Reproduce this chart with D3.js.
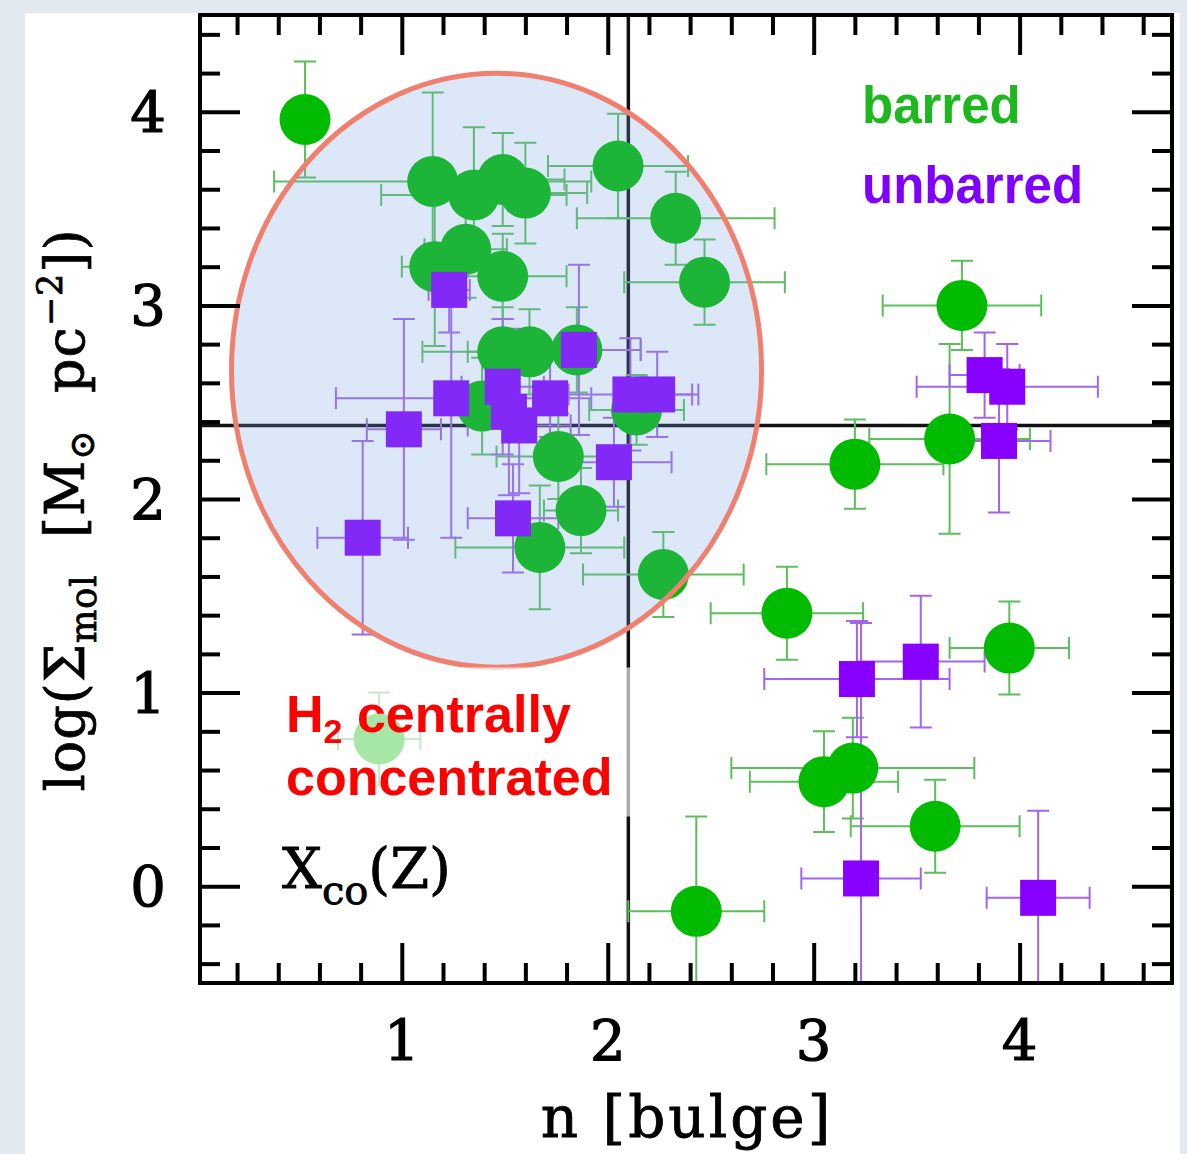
<!DOCTYPE html>
<html>
<head>
<meta charset="utf-8">
<script src="https://cdn.jsdelivr.net/npm/d3@7"></script>
<style>
  html, body { margin: 0; padding: 0; background: #e3e9f1; }
  svg { display: block; }
</style>
</head>
<body>
<svg id="chart"></svg>
<script>
// barred galaxies (green circles)
const barredN     = [0.53, 1.15, 1.35, 1.49, 1.60, 2.05, 2.33, 2.47, 1.16, 1.31, 1.49, 1.49, 1.62, 1.85, 1.39, 2.14, 1.76, 1.87, 1.67, 2.27, 0.89, 3.72, 3.20, 3.66, 2.87, 3.95, 3.05, 3.19, 3.59, 2.43];
const barredLogS  = [3.96, 3.64, 3.57, 3.65, 3.58, 3.72, 3.45, 3.12, 3.20, 3.29, 3.15, 2.76, 2.76, 2.77, 2.48, 2.46, 2.22, 1.94, 1.75, 1.61, 0.76, 3.00, 2.18, 2.31, 1.41, 1.23, 0.54, 0.61, 0.31, -0.13];
const barredNErr  = [0.02, 0.77, 0.45, 0.30, 0.30, 0.34, 0.48, 0.39, 0.16, 0.20, 0.31, 0.39, 0.30, 0.31, 0.15, 0.23, 0.30, 0.18, 0.41, 0.39, 0.20, 0.385, 0.43, 0.39, 0.37, 0.29, 0.36, 0.59, 0.41, 0.33];
const barredSErr  = [0.30, 0.46, 0.35, 0.24, 0.26, 0.27, 0.24, 0.22, 0.41, 0.25, 0.22, 0.23, 0.22, 0.22, 0.25, 0.18, 0.22, 0.22, 0.32, 0.22, 0.24, 0.23, 0.23, 0.49, 0.24, 0.24, 0.26, 0.26, 0.24, 0.49];

// unbarred galaxies (purple squares)
const unbarredN    = [1.23, 1.86, 1.24, 1.49, 1.52, 1.57, 1.72, 1.01, 0.81, 1.54, 2.03, 2.11, 2.24, 3.83, 3.94, 3.90, 3.21, 3.52, 3.23, 4.09];
const unbarredLogS = [3.08, 2.77, 2.52, 2.58, 2.45, 2.38, 2.52, 2.36, 1.80, 1.90, 2.19, 2.54, 2.54, 2.64, 2.58, 2.30, 1.07, 1.16, 0.04, -0.06];
const unbarredNErr = [0.10, 0.30, 0.56, 0.20, 0.20, 0.25, 0.20, 0.18, 0.22, 0.22, 0.28, 0.30, 0.20, 0.17, 0.44, 0.25, 0.45, 0.31, 0.29, 0.25];
const unbarredSErr = [0.22, 0.44, 0.72, 0.35, 0.43, 0.35, 0.20, 0.57, 0.50, 0.28, 0.23, 0.29, 0.22, 0.22, 0.22, 0.37, 0.30, 0.34, 1.32, 0.45];

// axes
const xTickLabels = [1, 2, 3, 4];
const yTickLabels = [0, 1, 2, 3, 4];
const nThreshold = 2.10;      // vertical divider
const sThreshold = 2.38;      // horizontal divider

// highlighted region (ellipse) and annotation box, data units
const regionCenter = [1.46, 2.665];
const regionRadii = [1.287, 1.534];
const noteBox = [0.40, 1.13, 2.115, 0.36];

const W = 1187, H = 1154;
const svg = d3.select('#chart').attr('width', W).attr('height', H);

// white page panel
svg.append('rect').attr('x', 25).attr('y', 13).attr('width', 1155).attr('height', H - 13).attr('fill', '#fff');

const x = d3.scaleLinear().domain([0.02, 4.74]).range([200, 1172]);
const y = d3.scaleLinear().domain([-0.5, 4.5]).range([983, 15]);

svg.append('clipPath').attr('id', 'plotclip')
  .append('rect').attr('x', 200).attr('y', 15).attr('width', 972).attr('height', 968);

const plot = svg.append('g').attr('clip-path', 'url(#plotclip)');

// divider lines
plot.append('line')
  .attr('x1', x(nThreshold)).attr('x2', x(nThreshold))
  .attr('y1', y(4.5)).attr('y2', y(-0.5))
  .attr('stroke', '#111').attr('stroke-width', 3.5);
plot.append('line')
  .attr('x1', x(0.02)).attr('x2', x(4.74))
  .attr('y1', y(sThreshold)).attr('y2', y(sThreshold))
  .attr('stroke', '#111').attr('stroke-width', 3.5);

const barred = barredN.map((n, i) => ({n, s: barredLogS[i], en: barredNErr[i], es: barredSErr[i]}));
const unbarred = unbarredN.map((n, i) => ({n, s: unbarredLogS[i], en: unbarredNErr[i], es: unbarredSErr[i]}));

const cap = 11;
function errorBars(data, color) {
  const g = plot.append('g').attr('stroke', color).attr('stroke-width', 2).attr('fill', 'none');
  data.forEach((d) => {
    const cx = x(d.n), cy = y(d.s);
    const x0 = x(d.n - d.en), x1 = x(d.n + d.en);
    const y0 = y(d.s - d.es), y1 = y(d.s + d.es);
    g.append('path').attr('d',
      'M' + x0 + ',' + cy + 'H' + x1 +
      'M' + x0 + ',' + (cy - cap) + 'V' + (cy + cap) +
      'M' + x1 + ',' + (cy - cap) + 'V' + (cy + cap) +
      'M' + cx + ',' + y0 + 'V' + y1 +
      'M' + (cx - cap) + ',' + y0 + 'H' + (cx + cap) +
      'M' + (cx - cap) + ',' + y1 + 'H' + (cx + cap));
  });
}
errorBars(barred, '#5cbf5c');
errorBars(unbarred, '#a464ec');

plot.append('g').selectAll('circle')
  .data(barred)
  .enter().append('circle')
  .attr('cx', (d) => x(d.n))
  .attr('cy', (d) => y(d.s))
  .attr('r', 25.5)
  .attr('fill', '#00bb00');

const half = 18;
plot.append('g').selectAll('rect')
  .data(unbarred)
  .enter().append('rect')
  .attr('x', (d) => x(d.n) - half)
  .attr('y', (d) => y(d.s) - half)
  .attr('width', half * 2)
  .attr('height', half * 2)
  .attr('fill', '#8800ff');

// shaded ellipse on top of the points
const ecx = x(regionCenter[0]), ecy = y(regionCenter[1]);
const erx = x(regionCenter[0] + regionRadii[0]) - ecx;
const ery = ecy - y(regionCenter[1] + regionRadii[1]);
plot.append('ellipse')
  .attr('cx', ecx).attr('cy', ecy).attr('rx', erx).attr('ry', ery)
  .attr('fill', 'rgb(117,162,223)').attr('fill-opacity', 0.25)
  .attr('stroke', '#f07f6f').attr('stroke-width', 5);

// semi-transparent box behind the red note
svg.append('rect')
  .attr('x', x(noteBox[0])).attr('y', y(noteBox[1]))
  .attr('width', x(noteBox[2]) - x(noteBox[0]))
  .attr('height', y(noteBox[3]) - y(noteBox[1]))
  .attr('fill', '#fff').attr('fill-opacity', 0.65);

// frame and ticks
const minorX = d3.range(0.2, 4.7, 0.2).filter((v) => Math.abs(v - Math.round(v)) > 0.01);
const minorY = d3.range(-0.4, 4.5, 0.2).filter((v) => Math.abs(v - Math.round(v)) > 0.01);

function tickAxis(axisFn, scale, values, size, transform) {
  const g = svg.append('g')
    .attr('transform', transform)
    .call(axisFn(scale).tickValues(values).tickSize(size).tickFormat(''));
  g.select('.domain').remove();
  g.selectAll('line').attr('stroke', '#000').attr('stroke-width', 4);
}
tickAxis(d3.axisBottom, x, minorX, -20, 'translate(0,983)');
tickAxis(d3.axisBottom, x, xTickLabels, -40, 'translate(0,983)');
tickAxis(d3.axisTop, x, minorX, -20, 'translate(0,15)');
tickAxis(d3.axisTop, x, xTickLabels, -40, 'translate(0,15)');
tickAxis(d3.axisLeft, y, minorY, -20, 'translate(200,0)');
tickAxis(d3.axisLeft, y, yTickLabels, -40, 'translate(200,0)');
tickAxis(d3.axisRight, y, minorY, -20, 'translate(1172,0)');
tickAxis(d3.axisRight, y, yTickLabels, -40, 'translate(1172,0)');

svg.append('rect')
  .attr('x', 200).attr('y', 15).attr('width', 972).attr('height', 968)
  .attr('fill', 'none').attr('stroke', '#000').attr('stroke-width', 4);

const serif = "'DejaVu Serif', serif";
const sans = "'Liberation Sans', Arial, sans-serif";

// serif text is a bit heavier in the original
function heavy(sel, w) {
  return sel.attr('stroke', '#000').attr('stroke-width', w).attr('paint-order', 'stroke');
}

heavy(svg.append('g').selectAll('text')
  .data(xTickLabels)
  .enter().append('text')
  .attr('x', (d) => x(d))
  .attr('y', 1060)
  .attr('text-anchor', 'middle')
  .attr('font-family', serif).attr('font-size', 56)
  .text((d) => d), 1.2);

heavy(svg.append('g').selectAll('text')
  .data(yTickLabels)
  .enter().append('text')
  .attr('x', 166)
  .attr('y', (d) => y(d) + 20)
  .attr('text-anchor', 'end')
  .attr('font-family', serif).attr('font-size', 56)
  .text((d) => d), 1.2);

// axis titles
heavy(svg.append('text')
  .attr('x', 687).attr('y', 1137)
  .attr('text-anchor', 'middle')
  .attr('font-family', serif).attr('font-size', 58)
  .attr('letter-spacing', 3)
  .attr('xml:space', 'preserve')
  .text('n [bulge]'), 0.8);

const yt = heavy(svg.append('text')
  .attr('transform', 'translate(84,510) rotate(-90)')
  .attr('text-anchor', 'middle')
  .attr('font-family', serif).attr('font-size', 54)
  .attr('letter-spacing', 1)
  .attr('xml:space', 'preserve'), 0.8);
yt.append('tspan').text('log(Σ');
yt.append('tspan').attr('font-size', 35).attr('dy', 12).text('mol');
yt.append('tspan').attr('dy', -12).text('  [M');
yt.append('tspan').attr('font-size', 35).attr('dy', 10).text('⊙');
yt.append('tspan').attr('dy', -10).text('  pc');
yt.append('tspan').attr('font-size', 35).attr('dy', -22).text('−2');
yt.append('tspan').attr('dy', 22).text('])');

// legend words
svg.append('text')
  .attr('x', 862).attr('y', 123)
  .attr('font-family', sans).attr('font-weight', 'bold').attr('font-size', 51)
  .attr('fill', '#1db81d')
  .text('barred');
svg.append('text')
  .attr('x', 862).attr('y', 203)
  .attr('font-family', sans).attr('font-weight', 'bold').attr('font-size', 51)
  .attr('fill', '#8000ff')
  .text('unbarred');

// red note
const note = svg.append('text')
  .attr('font-family', sans).attr('font-weight', 'bold').attr('font-size', 52)
  .attr('fill', '#ff0000');
note.append('tspan').attr('x', 286).attr('y', 732).text('H');
note.append('tspan').attr('font-size', 34).attr('dy', 11).text('2');
note.append('tspan').attr('dy', -11).text(' centrally');
note.append('tspan').attr('x', 286).attr('y', 795).text('concentrated');

// X_CO(Z)
const xco = heavy(svg.append('text')
  .attr('x', 282).attr('y', 888)
  .attr('font-family', serif).attr('font-size', 56), 0.8);
xco.append('tspan').text('X');
xco.append('tspan').attr('font-size', 40).attr('dy', 16).text('co');
xco.append('tspan').attr('dy', -16).text('(Z)');
</script>
</body>
</html>
